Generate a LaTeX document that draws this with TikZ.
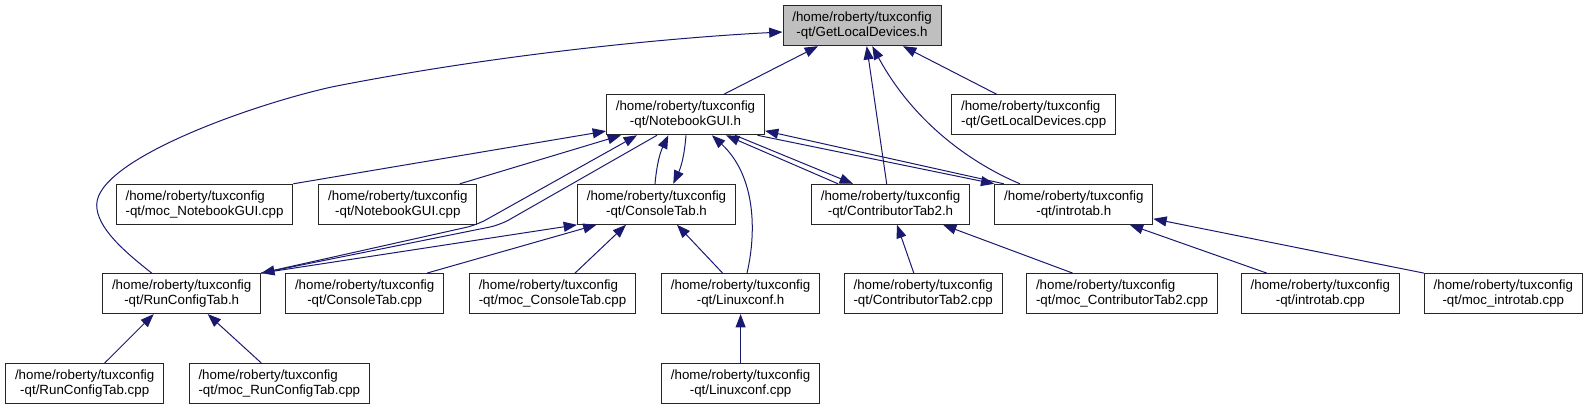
\documentclass[tikz,border=0pt]{standalone}
\usepackage{fontspec}
\setmainfont{Liberation Sans}
\usetikzlibrary{arrows.meta,calc}
\definecolor{edgeblue}{HTML}{191970}
\definecolor{rootfill}{HTML}{BFBFBF}
\definecolor{boxline}{HTML}{262626}

\begin{document}
\begin{tikzpicture}[
  x=0.75pt, y=-0.75pt,
  font=\fontsize{10pt}{11.25pt}\selectfont,
  >={Triangle[length=10pt, width=7.5pt]},
  filebox/.style={draw=boxline, line width=0.75pt, fill=white, minimum height=30pt, inner xsep=7pt, inner ysep=0pt, align=center},
  widebox/.style={filebox, align=left},
  rootbox/.style={filebox, fill=rootfill},
  dep/.style={->, draw=edgeblue, line width=0.75pt}
]
\def\rowA{25.7}
\def\rowB{114.8}
\def\rowC{204.3}
\def\rowD{293.6}
\def\rowE{383.5}
\useasboundingbox (0,0) rectangle (1588,409);

% files
\node[rootbox] (gldh) at (862,\rowA) {/home/roberty/tuxconfig\\-qt/GetLocalDevices.h};
\node[filebox] (nb) at (685.5,\rowB) {/home/roberty/tuxconfig\\-qt/NotebookGUI.h};
\node[widebox] (gldcpp) at (1033.7,\rowB) {/home/roberty/tuxconfig\\-qt/GetLocalDevices.cpp};
\node[widebox] (mocnb) at (204.5,\rowC) {/home/roberty/tuxconfig\\-qt/moc\_NotebookGUI.cpp};
\node[filebox] (nbcpp) at (397.8,\rowC) {/home/roberty/tuxconfig\\-qt/NotebookGUI.cpp};
\node[filebox] (cth) at (656.5,\rowC) {/home/roberty/tuxconfig\\-qt/ConsoleTab.h};
\node[filebox] (ct2h) at (890.5,\rowC) {/home/roberty/tuxconfig\\-qt/ContributorTab2.h};
\node[filebox] (ith) at (1073.8,\rowC) {/home/roberty/tuxconfig\\-qt/introtab.h};
\node[filebox] (rcth) at (181.7,\rowD) {/home/roberty/tuxconfig\\-qt/RunConfigTab.h};
\node[filebox] (ctcpp) at (364.7,\rowD) {/home/roberty/tuxconfig\\-qt/ConsoleTab.cpp};
\node[widebox] (mocct) at (552.5,\rowD) {/home/roberty/tuxconfig\\-qt/moc\_ConsoleTab.cpp};
\node[filebox] (lxh) at (740.6,\rowD) {/home/roberty/tuxconfig\\-qt/Linuxconf.h};
\node[filebox] (ct2cpp) at (923.2,\rowD) {/home/roberty/tuxconfig\\-qt/ContributorTab2.cpp};
\node[widebox] (mocct2) at (1122,\rowD) {/home/roberty/tuxconfig\\-qt/moc\_ContributorTab2.cpp};
\node[filebox] (itcpp) at (1320.3,\rowD) {/home/roberty/tuxconfig\\-qt/introtab.cpp};
\node[filebox] (mocit) at (1503.3,\rowD) {/home/roberty/tuxconfig\\-qt/moc\_introtab.cpp};
\node[filebox] (rctcpp) at (84.7,\rowE) {/home/roberty/tuxconfig\\-qt/RunConfigTab.cpp};
\node[widebox] (mocrct) at (279.3,\rowE) {/home/roberty/tuxconfig\\-qt/moc\_RunConfigTab.cpp};
\node[filebox] (lxcpp) at (740.6,\rowE) {/home/roberty/tuxconfig\\-qt/Linuxconf.cpp};

% into GetLocalDevices.h
\draw[dep] ($(nb.north)+(38.3,0)$) -- ($(gldh.south)+(-44,0)$);
\draw[dep] ($(gldcpp.north)+(-37,0)$) -- ($(gldh.south)+(41,0)$);
\draw[dep] ($(ct2h.north)+(-3.8,0)$) -- ($(gldh.south)+(4.7,0)$);
\draw[dep] ($(ith.north)+(-53.8,0)$) .. controls (975,165) and (915,125) .. ($(gldh.south)+(10.3,0)$);
\draw[dep] ($(rcth.north)+(-30,0)$) .. controls (125,252) and (96.7,228) .. (96.7,205)
  .. controls (96.7,160) and (250,105) .. (333,86.7)
  .. controls (520,50) and (700,36) .. ($(gldh.west)+(0,6.3)$);

% into NotebookGUI.h
\draw[dep] (mocnb.north east) -- ($(nb.west)+(0,16.3)$);
\draw[dep] ($(nbcpp.north)+(62,0)$) -- ($(nb.south)+(-64.5,0)$);
\draw[dep, rounded corners=8pt] (rcth.north east) -- (476.7,225) -- ($(nb.south)+(-48.5,0)$);
\draw[dep] ($(cth.north)+(-1.5,0)$) to[bend left=10] ($(nb.south)+(-17.2,0)$);
\draw[dep] ($(lxh.north)+(6.4,0)$) .. controls (757,230) and (755,175) .. ($(nb.south)+(26.5,0)$);
\draw[dep] ($(ct2h.north)+(-52.5,0)$) -- ($(nb.south)+(40.5,0)$);
\draw[dep] ($(ith.north)+(-70,0)$) -- ($(nb.east)+(0,16)$);

% out of NotebookGUI.h
\draw[dep, rounded corners=8pt] ($(nb.south)+(-28.5,0)$) -- (500,225) -- (rcth.north east);
\draw[dep] ($(nb.south)+(0.5,0)$) to[bend left=10] ($(cth.north)+(16.8,0)$);
\draw[dep] ($(nb.south)+(49.5,0)$) -- ($(ct2h.north)+(-37.5,0)$);
\draw[dep] ($(nb.south)+(72,0)$) -- (ith.north west);

% into ConsoleTab.h
\draw[dep] (rcth.north east) -- (cth.south west);
\draw[dep] ($(ctcpp.north)+(62.3,0)$) -- ($(cth.south)+(-60,0)$);
\draw[dep] ($(mocct.north)+(22.5,0)$) -- ($(cth.south)+(-30.5,0)$);
\draw[dep] ($(lxh.north)+(-18,0)$) -- ($(cth.south)+(20.5,0)$);

% bottom rows
\draw[dep] ($(ct2cpp.north)+(-9.4,0)$) -- ($(ct2h.south)+(6.5,0)$);
\draw[dep] ($(mocct2.north)+(-49.4,0)$) -- ($(ct2h.south)+(52.5,0)$);
\draw[dep] ($(itcpp.north)+(-53.6,0)$) -- ($(ith.south)+(56,0)$);
\draw[dep] (mocit.north west) -- ($(ith.east)+(0,14.5)$);
\draw[dep] ($(rctcpp.north)+(20,0)$) -- ($(rcth.south)+(-28,0)$);
\draw[dep] ($(mocrct.north)+(-18,0)$) -- ($(rcth.south)+(26,0)$);
\draw[dep] (lxcpp) -- (lxh);

\end{tikzpicture}
\end{document}
